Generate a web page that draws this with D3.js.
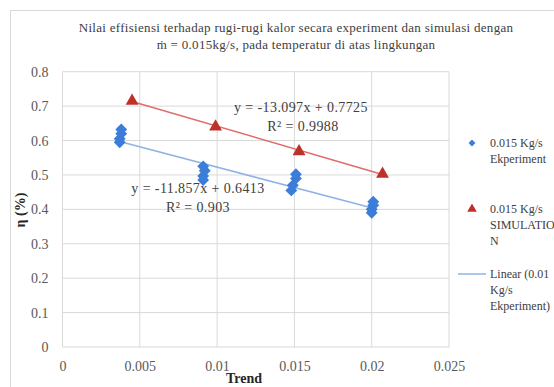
<!DOCTYPE html>
<html><head><meta charset="utf-8">
<script src="https://cdn.jsdelivr.net/npm/d3@7"></script>
<style>body{margin:0;background:#fff}svg{display:block}svg text{font-family:"Liberation Serif","Times New Roman",serif !important}</style>
</head><body>
<svg id="c" width="554" height="387"></svg>
<script>
const titleLines = ["Nilai effisiensi terhadap rugi-rugi kalor secara experiment dan simulasi dengan", "ṁ = 0.015kg/s, pada temperatur di atas lingkungan"];
const expX = [0.0037,0.0037,0.0038,0.0038, 0.0091,0.0091,0.0092,0.0091, 0.0148,0.0149,0.0151,0.0151, 0.0200,0.0200,0.0201,0.0201];
const expY = [0.595,0.605,0.620,0.632, 0.485,0.497,0.512,0.525, 0.455,0.470,0.490,0.502, 0.390,0.400,0.412,0.422];
const simX = [0.0045,0.0099,0.0153,0.0207];
const simY = [0.715,0.640,0.568,0.503];
const expFit = {m:-11.857, b:0.6413, label:"y = -11.857x + 0.6413", r2:"R² = 0.903"};
const simFit = {m:-13.097, b:0.7725, label:"y = -13.097x + 0.7725", r2:"R² = 0.9988"};
const xTicks = [0,0.005,0.01,0.015,0.02,0.025];
const yTicks = [0,0.1,0.2,0.3,0.4,0.5,0.6,0.7,0.8];
const legendItems = [["0.015 Kg/s","Ekperiment"],["0.015 Kg/s","SIMULATIO","N"],["Linear (0.01","Kg/s","Ekperiment)"]];

const svg = d3.select("#c");
svg.append("rect").attr("x",10.5).attr("y",10.5).attr("width",600).attr("height",400).attr("fill","#fff").attr("stroke","#d9d9d9");

const x = d3.scaleLinear().domain([0,0.025]).range([62.5,449]);
const y = d3.scaleLinear().domain([0,0.8]).range([347,71.7]);

const g = svg.append("g");
g.selectAll(".gx").data(xTicks).join("line").attr("x1",d=>x(d)).attr("x2",d=>x(d)).attr("y1",y(0)).attr("y2",y(0.8)).attr("stroke","#d9d9d9").attr("stroke-width",1);
g.selectAll(".gy").data(yTicks).join("line").attr("y1",d=>y(d)).attr("y2",d=>y(d)).attr("x1",x(0)).attr("x2",x(0.025)).attr("stroke","#d9d9d9").attr("stroke-width",1);

const ax = svg.append("g").attr("transform",`translate(0,${y(0)})`).call(d3.axisBottom(x).tickValues(xTicks).tickFormat(d=>String(d)).tickSize(0).tickPadding(14));
const ay = svg.append("g").attr("transform",`translate(${x(0)},0)`).call(d3.axisLeft(y).tickValues(yTicks).tickFormat(d=>String(+d.toFixed(1))).tickSize(0).tickPadding(14));
[ax,ay].forEach(a=>{a.attr("font-family",null);a.select(".domain").remove();a.selectAll("text").attr("font-size",14).attr("fill","#595959");});

const line = d3.line().x(d=>x(d[0])).y(d=>y(d[1]));
const ex0=d3.min(expX), ex1=d3.max(expX);
svg.append("path").attr("d",line([[ex0,expFit.m*ex0+expFit.b],[ex1,expFit.m*ex1+expFit.b]])).attr("stroke","#8fb4e3").attr("stroke-width",1.5).attr("fill","none");
const sx0=d3.min(simX), sx1=d3.max(simX);
svg.append("path").attr("d",line([[sx0,simFit.m*sx0+simFit.b],[sx1,simFit.m*sx1+simFit.b]])).attr("stroke","#e06b6b").attr("stroke-width",1.5).attr("fill","none");

const diamond = d3.symbol().type(d3.symbolDiamond2).size(90);
const tri = d3.symbol().type(d3.symbolTriangle).size(72);
svg.selectAll(".e").data(expX.map((v,i)=>[v,expY[i]])).join("path").attr("d",diamond).attr("transform",d=>`translate(${x(d[0])},${y(d[1])})`).attr("fill","#3b7dd8");
svg.selectAll(".s").data(simX.map((v,i)=>[v,simY[i]])).join("path").attr("d",tri).attr("transform",d=>`translate(${x(d[0])},${y(d[1])})`).attr("fill","#c0302b");

const eq = svg.append("g").attr("font-size",14).attr("fill","#404040").attr("text-anchor","middle").attr("letter-spacing",0.4);
eq.append("text").attr("x",301).attr("y",112).text(simFit.label);
eq.append("text").attr("x",303).attr("y",131).text(simFit.r2);
eq.append("text").attr("x",198).attr("y",193).text(expFit.label);
eq.append("text").attr("x",198).attr("y",212).text(expFit.r2);

svg.append("g").selectAll("text").data(titleLines).join("text").attr("x",296).attr("y",(d,i)=>32+i*17).attr("text-anchor","middle").attr("font-size",13).attr("letter-spacing",0.3).attr("fill","#404040").text(d=>d);

svg.append("text").attr("x",244).attr("y",383).attr("text-anchor","middle").attr("font-size",14).attr("font-weight","bold").attr("fill","#262626").text("Trend");
svg.append("text").attr("transform","translate(25,210) rotate(-90)").attr("text-anchor","middle").attr("font-size",14).attr("font-weight","bold").attr("fill","#262626").text("η (%)");

const lg = svg.append("g").attr("font-size",12).attr("fill","#404040");
const lys=[143,209,274];
legendItems.forEach((lines,i)=>{
  lines.forEach((t,j)=>lg.append("text").attr("x",490).attr("y",lys[i]+4+j*16).text(t));
});
lg.append("path").attr("d",d3.symbol().type(d3.symbolDiamond2).size(30)).attr("transform",`translate(472,${lys[0]})`).attr("fill","#3b7dd8");
lg.append("path").attr("d",d3.symbol().type(d3.symbolTriangle).size(40)).attr("transform",`translate(472,${lys[1]})`).attr("fill","#c0302b");
lg.append("line").attr("x1",458).attr("x2",486).attr("y1",lys[2]).attr("y2",lys[2]).attr("stroke","#8fb4e3").attr("stroke-width",1.5);
</script>
</body></html>
